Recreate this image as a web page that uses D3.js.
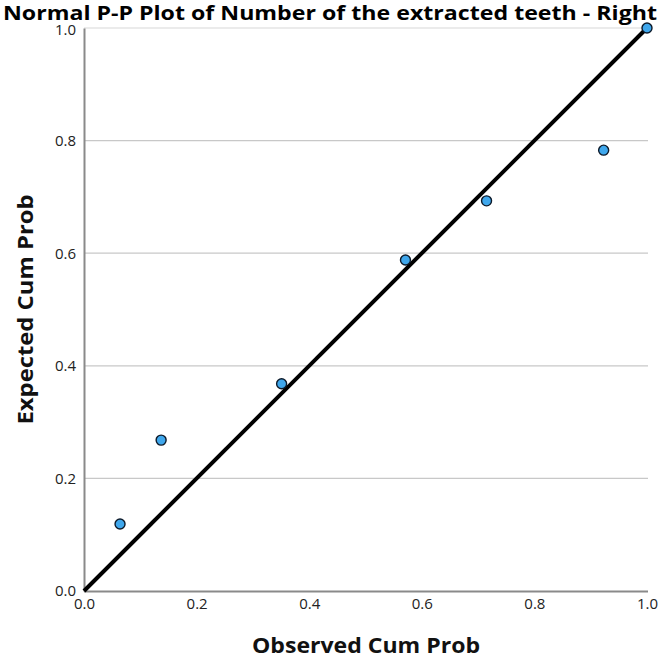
<!DOCTYPE html>
<html><head><meta charset="utf-8">
<script src="https://cdn.jsdelivr.net/npm/d3@7"></script>
<style>body{margin:0;background:#fff}</style>
</head><body>
<svg id="c" width="661" height="658"></svg>
<script>
const observed = [0.064, 0.137, 0.351, 0.571, 0.715, 0.923, 1.0];
const expected = [0.119, 0.268, 0.368, 0.588, 0.693, 0.783, 1.0];
const tickValues = [0, 0.2, 0.4, 0.6, 0.8, 1.0];
const title = "Normal P-P Plot of Number of the extracted teeth - Right";
const xLabel = "Observed Cum Prob";
const yLabel = "Expected Cum Prob";

const svg = d3.select("#c");
const L = 84, R = 647, T = 28, B = 591;
const x = d3.scaleLinear().domain([0, 1]).range([L, R]);
const y = d3.scaleLinear().domain([0, 1]).range([B, T]);
const FONT = "'Open Sans', 'DejaVu Sans', sans-serif";

// gridlines
svg.append("g").selectAll("line").data(tickValues.filter(d => d > 0)).join("line")
  .attr("x1", L).attr("x2", R + 1).attr("y1", d => y(d)).attr("y2", d => y(d))
  .attr("stroke", d => d === 1 ? "#e4e4e4" : "#c8c8c8").attr("stroke-width", 1.3);

// axes
const xAxis = svg.append("g").attr("transform", `translate(0,${B})`)
  .call(d3.axisBottom(x).tickValues(tickValues).tickFormat(d3.format(".1f")).tickSize(0).tickPadding(7));
const yAxis = svg.append("g").attr("transform", `translate(${L},0)`)
  .call(d3.axisLeft(y).tickValues(tickValues).tickFormat(d3.format(".1f")).tickSize(0).tickPadding(8));
[xAxis, yAxis].forEach(a => {
  a.select(".domain").attr("stroke", "#8a8a8a").attr("stroke-width", 2);
  a.selectAll("text").attr("font-family", FONT).attr("font-size", 15).attr("fill", "#222");
});
yAxis.selectAll(".tick text").filter(d => d === 1).attr("dy", "0.45em");
xAxis.select(".domain").attr("d", `M${L},0.5H${R + 1}`);

// diagonal reference line
svg.append("line").attr("x1", x(0)).attr("y1", y(0)).attr("x2", x(1)).attr("y2", y(1))
  .attr("stroke", "#000").attr("stroke-width", 4);

// points
svg.append("g").selectAll("circle").data(observed.map((o, i) => [o, expected[i]])).join("circle")
  .attr("cx", d => x(d[0])).attr("cy", d => y(d[1])).attr("r", 5)
  .attr("fill", "#3fa7ec").attr("stroke", "#0d1a2a").attr("stroke-width", 1.4);

// title
svg.append("text").attr("x", 330).attr("y", 20).attr("text-anchor", "middle")
  .attr("font-family", FONT).attr("font-weight", "bold")
  .attr("font-size", 20).attr("fill", "#000")
  .attr("textLength", 654).attr("lengthAdjust", "spacingAndGlyphs")
  .text(title);

svg.append("text").attr("x", 366).attr("y", 653).attr("text-anchor", "middle")
  .attr("font-family", FONT).attr("font-weight", "bold")
  .attr("font-size", 22).attr("fill", "#111")
  .attr("textLength", 228).attr("lengthAdjust", "spacingAndGlyphs").text(xLabel);

svg.append("text").attr("transform", `translate(33,${(T + B) / 2}) rotate(-90)`).attr("text-anchor", "middle")
  .attr("font-family", FONT).attr("font-weight", "bold")
  .attr("font-size", 22).attr("fill", "#111")
  .attr("textLength", 230).attr("lengthAdjust", "spacingAndGlyphs").text(yLabel);
</script>
</body></html>
